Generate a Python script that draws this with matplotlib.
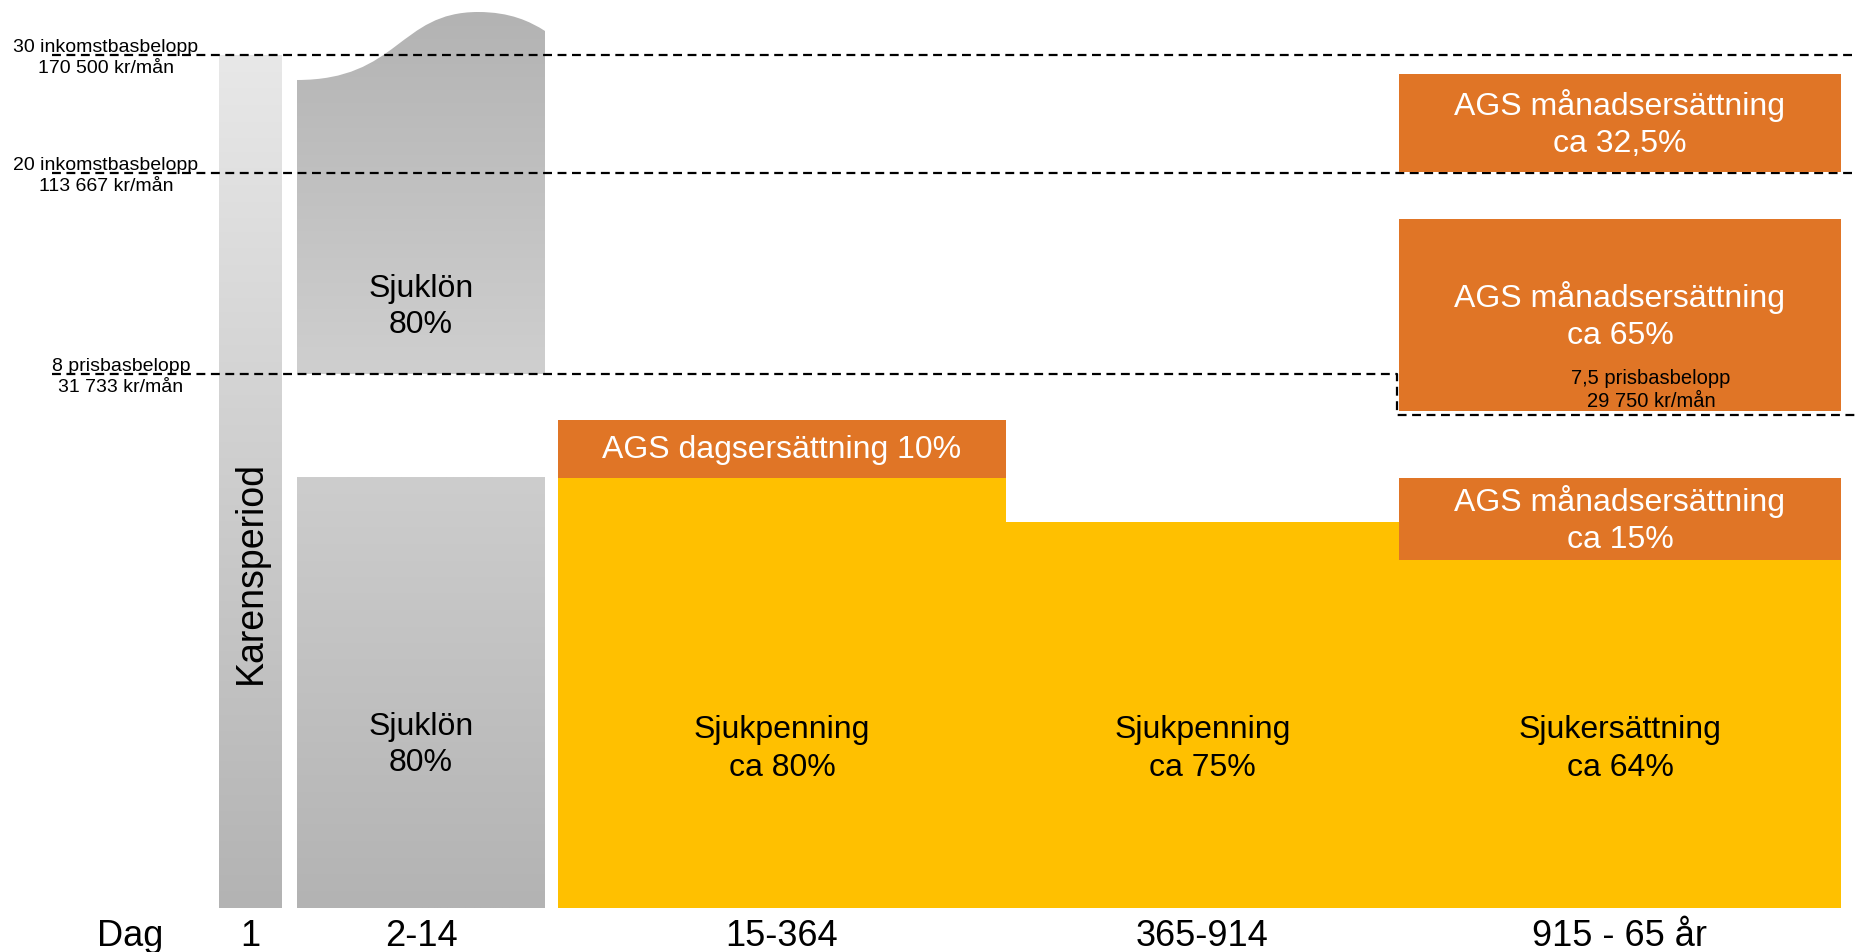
import numpy as np
import matplotlib.pyplot as plt
from matplotlib.colors import LinearSegmentedColormap
from matplotlib.path import Path
from matplotlib.patches import PathPatch

plt.rcParams['font.family'] = ['Liberation Sans', 'DejaVu Sans']

# schematic levels (0 = baseline)
grans_niva = [853, 735, 534]
grans_text = ["30 inkomstbasbelopp\n170 500 kr/mån",
              "20 inkomstbasbelopp\n113 667 kr/mån",
              "8 prisbasbelopp\n31 733 kr/mån"]
pbb75_niva = 493
pbb75_text = "7,5 prisbasbelopp\n29 750 kr/mån"

perioder = ["1", "2-14", "15-364", "365-914", "915 - 65 år"]
karens_niva = 853
sjuklon_niva = 431
sjuklon_ovre = [534, 828, 896, 877]   # bottom, left top, peak, right top
sjuk_niva = [430, 386, 348]           # sjukpenning 80%, 75%, sjukersättning 64%
sjuk_text = ["Sjukpenning\nca 80%", "Sjukpenning\nca 75%", "Sjukersättning\nca 64%"]
ags_dag = [430, 488]
ags_man = [[348, 430], [497, 689], [736, 834]]
ags_man_text = ["AGS månadsersättning\nca 15%", "AGS månadsersättning\nca 65%",
                "AGS månadsersättning\nca 32,5%"]

GUL = '#FFC000'
ORANGE = '#E07526'

fig = plt.figure(figsize=(18.56, 9.53), dpi=100)
ax = fig.add_axes([0, 0, 1, 1])
ax.axis('off')

left = [219, 297, 558, 1006, 1399]
right = [282, 545, 1006, 1399, 1841]
mid = [(a + b) / 2 for a, b in zip(left, right)]


def gradient(patch, top, bottom, y0, y1, x0, x1):
    cmap = LinearSegmentedColormap.from_list('g', [bottom, top])
    im = ax.imshow(np.linspace(0, 1, 256).reshape(-1, 1), cmap=cmap, origin='lower',
                   extent=[x0, x1, y0, y1], aspect='auto', zorder=1)
    im.set_clip_path(patch)


# karensdag
b = ax.bar(left[0], karens_niva, width=right[0] - left[0], align='edge', color='none', zorder=1)[0]
gradient(b, '#e8e8e8', '#b3b3b3', 0, karens_niva, left[0], right[0])

# sjuklön, lower part
b = ax.bar(left[1], sjuklon_niva, width=right[1] - left[1], align='edge', color='none', zorder=1)[0]
gradient(b, '#cdcdcd', '#b3b3b3', 0, sjuklon_niva, left[1], right[1])

# sjuklön, upper part with wavy top
x0, x1 = left[1], right[1]
w = x1 - x0
bot, lt, pk, rt = sjuklon_ovre
verts = [(x0, bot), (x0, lt),
         (x0 + 0.41 * w, lt), (x0 + 0.41 * w, pk), (x0 + 0.73 * w, pk),
         (x0 + 0.86 * w, pk), (x0 + 0.94 * w, (pk + rt) / 2), (x1, rt),
         (x1, bot), (x0, bot)]
codes = [Path.MOVETO, Path.LINETO, Path.CURVE4, Path.CURVE4, Path.CURVE4,
         Path.CURVE4, Path.CURVE4, Path.CURVE4, Path.LINETO, Path.CLOSEPOLY]
p = PathPatch(Path(verts, codes), facecolor='none', edgecolor='none')
ax.add_patch(p)
gradient(p, '#b3b3b3', '#cfcfcf', bot, pk, x0, x1)

# limit lines
dash = dict(color='black', lw=1.6, ls=(0, (4, 2.5)), zorder=2)
ax.plot([52, 1856], [grans_niva[0]] * 2, **dash)
ax.plot([52, 1856], [grans_niva[1]] * 2, **dash)
ax.plot([52, left[4] - 2, left[4] - 2, 1856], [grans_niva[2], grans_niva[2], pbb75_niva, pbb75_niva], **dash)

# sjukpenning / sjukersättning
ax.bar(left[2:], sjuk_niva, width=[r - l for l, r in zip(left[2:], right[2:])],
       align='edge', color=GUL, zorder=3)

# AGS
ax.bar(left[2], ags_dag[1] - ags_dag[0], bottom=ags_dag[0], width=right[2] - left[2],
       align='edge', color=ORANGE, zorder=3)
for lo, hi in ags_man:
    ax.bar(left[4], hi - lo, bottom=lo, width=right[4] - left[4], align='edge', color=ORANGE, zorder=3)

# texts
ax.text(106, grans_niva[0] - 2, grans_text[0], ha='center', va='center', fontsize=14, linespacing=1.25)
ax.text(106, grans_niva[1] - 2, grans_text[1], ha='center', va='center', fontsize=14, linespacing=1.25)
ax.text(121, grans_niva[2] - 2, grans_text[2], ha='center', va='center', fontsize=14, linespacing=1.25)
ax.text(1651, pbb75_niva + 26, pbb75_text, ha='center', va='center', fontsize=14.5, linespacing=1.25, zorder=5)

ax.text(mid[0], 336, "Karensperiod", rotation=90, ha='center', va='center', fontsize=27)
ax.text(mid[1], 164, "Sjuklön\n80%", ha='center', va='center', fontsize=23, linespacing=1.25)
ax.text(mid[1], 602, "Sjuklön\n80%", ha='center', va='center', fontsize=23, linespacing=1.25)
for xm, t in zip(mid[2:], sjuk_text):
    ax.text(xm, 160, t, ha='center', va='center', fontsize=23, linespacing=1.32, zorder=5)

ax.text(mid[2], sum(ags_dag) / 2, "AGS dagsersättning 10%", ha='center', va='center',
        fontsize=23, color='white', zorder=5)
for (lo, hi), t in zip(ags_man, ags_man_text):
    ax.text(mid[4], (lo + hi) / 2, t, ha='center', va='center', fontsize=23,
            color='white', linespacing=1.32, zorder=5)

ax.text(130, -28, "Dag", ha='center', va='center', fontsize=26)
for xm, t in zip(mid, perioder):
    ax.text(xm, -28, t, ha='center', va='center', fontsize=26)

ax.set_xlim(0, 1856)
ax.set_ylim(-44, 909)
fig.savefig('out.png', dpi=100)
